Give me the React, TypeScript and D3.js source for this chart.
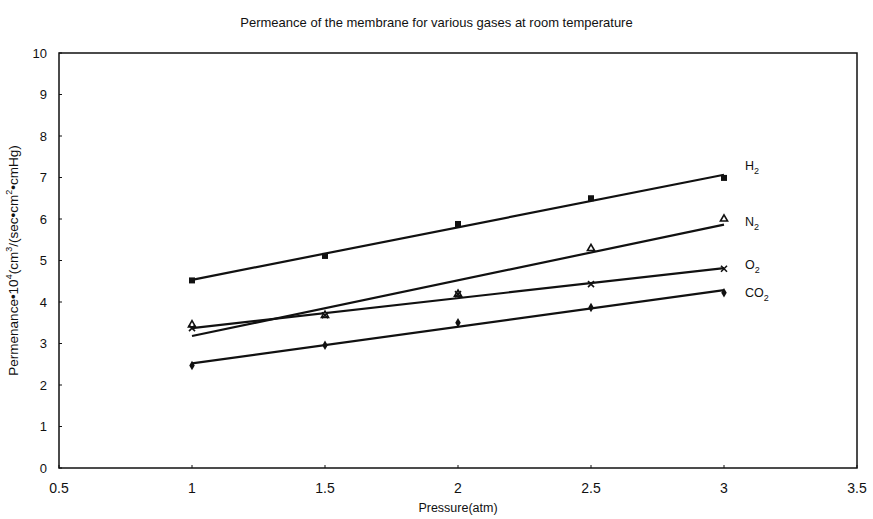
import * as d3 from "d3";
import React from "react";

// pressure (atm)
const pressures = [1, 1.5, 2, 2.5, 3];

// permeance values
const h2 = [4.52, 5.11, 5.88, 6.5, 6.99];
const n2 = [3.45, 3.68, 4.19, 5.29, 6.0];
const o2 = [3.37, 3.68, 4.19, 4.43, 4.8];
const co2 = [2.47, 2.96, 3.5, 3.87, 4.22];

const xTicks = [0.5, 1, 1.5, 2, 2.5, 3, 3.5];
const yTicks = [0, 1, 2, 3, 4, 5, 6, 7, 8, 9, 10];

const seriesNames = ["H", "N", "O", "CO"];

const W = 873,
    H = 519;
const margin = {top: 53, right: 16, bottom: 51, left: 59};

// least squares trend line, like the spreadsheet trendline
function fit(xs: number[], ys: number[]) {
    const mx = d3.mean(xs)!;
    const my = d3.mean(ys)!;
    let num = 0,
        den = 0;
    xs.forEach((x, i) => {
        num += (x - mx) * (ys[i] - my);
        den += (x - mx) * (x - mx);
    });
    const slope = num / den;
    return (x: number) => my + slope * (x - mx);
}

const App = () => {
    const x = d3.scaleLinear().domain([0.5, 3.5]).range([margin.left, W - margin.right]);
    const y = d3.scaleLinear().domain([0, 10]).range([H - margin.bottom, margin.top]);

    const series = [
        {name: "H", vals: h2, marker: "square"},
        {name: "N", vals: n2, marker: "triangle"},
        {name: "O", vals: o2, marker: "x"},
        {name: "CO", vals: co2, marker: "diamond"},
    ];

    const line = d3.line<number[]>().x(d => x(d[0])).y(d => y(d[1]));

    const marker = (kind: string, cx: number, cy: number, key: string) => {
        if (kind === "square")
            return <rect key={key} x={cx - 3} y={cy - 3} width={6} height={6} fill="#111"/>;
        if (kind === "triangle") {
            const tri = d3.symbol(d3.symbolTriangle, 22)();
            return <path key={key} d={tri!} transform={`translate(${cx},${cy})`} fill="#fff"
                         stroke="#111" strokeWidth={1.6}/>;
        }
        if (kind === "x")
            return <g key={key} stroke="#111" strokeWidth={1.6}>
                <line x1={cx - 3} y1={cy - 3} x2={cx + 3} y2={cy + 3}/>
                <line x1={cx - 3} y1={cy + 3} x2={cx + 3} y2={cy - 3}/>
            </g>;
        const dia = d3.symbol(d3.symbolDiamond, 26)();
        return <path key={key} d={dia!} transform={`translate(${cx},${cy})`} fill="#111"/>;
    };

    const labelY: {[k: string]: number} = {};
    // labels sit next to the last point of each series
    series.forEach(s => {
        labelY[s.name] = y(s.vals[s.vals.length - 1]);
    });
    const labelOffset: {[k: string]: number} = {H: -12, N: 3, O: -4, CO: 0};

    const axisFont = "'Liberation Sans Narrow', 'Liberation Sans', Arial, sans-serif";
    const font = "'Liberation Sans', Arial, sans-serif";

    return (
        <>
            <style>{"body{margin:0}"}</style>
            <svg width={W} height={H} style={{display: "block", background: "#fff"}}>
                <text x={W / 2} y={27} textAnchor="middle" fontFamily={font} fontSize={13} fill="#111">
                    Permeance of the membrane for various gases at room temperature
                </text>

                {/* plot frame */}
                <rect x={margin.left} y={margin.top} width={W - margin.left - margin.right}
                      height={H - margin.top - margin.bottom} fill="none" stroke="#111" strokeWidth={1.5}/>

                {yTicks.map(t => (
                    <g key={"y" + t}>
                        <line x1={margin.left} x2={margin.left + 3} y1={y(t)} y2={y(t)} stroke="#111"/>
                        <text x={47} y={y(t)} dy="0.35em" textAnchor="end" fontFamily={font} fontSize={13}
                              fill="#111">{t}</text>
                    </g>
                ))}
                {xTicks.map(t => (
                    <g key={"x" + t}>
                        <line x1={x(t)} x2={x(t)} y1={y(0)} y2={y(0) - 3} stroke="#111"/>
                        <text x={x(t)} y={y(0) + 25} textAnchor="middle" fontFamily={axisFont} fontSize={14}
                              fill="#111">{t}</text>
                    </g>
                ))}

                <text x={x(2)} y={512} textAnchor="middle" fontFamily={axisFont} fontSize={12.5} fill="#111">
                    Pressure(atm)
                </text>
                <text transform={`translate(18,${(margin.top + H - margin.bottom) / 2}) rotate(-90)`}
                      textAnchor="middle" fontFamily={font} fontSize={13.5} fill="#111">
                    Permenance•10<tspan dy={-6} fontSize={9}>4</tspan>
                    <tspan dy={6}>(cm</tspan><tspan dy={-6} fontSize={9}>3</tspan>
                    <tspan dy={6}>/(sec•cm</tspan><tspan dy={-6} fontSize={9}>2</tspan>
                    <tspan dy={6}>•cmHg)</tspan>
                </text>

                {series.map(s => {
                    const f = fit(pressures, s.vals);
                    const x0 = pressures[0],
                        x1 = pressures[pressures.length - 1];
                    return (
                        <path key={"l" + s.name} d={line([[x0, f(x0)], [x1, f(x1)]])!} fill="none"
                              stroke="#111" strokeWidth={2.2}/>
                    );
                })}
                {series.map(s => s.vals.map((v, i) => marker(s.marker, x(pressures[i]), y(v), s.name + i)))}

                {seriesNames.map(n => (
                    <text key={"t" + n} x={x(3) + 21} y={labelY[n] + labelOffset[n]} dy="0.35em"
                          fontFamily={font} fontSize={12.5} fill="#111">
                        {n}<tspan dy={4} fontSize={9}>2</tspan>
                    </text>
                ))}
            </svg>
        </>
    );
};

export default App;
